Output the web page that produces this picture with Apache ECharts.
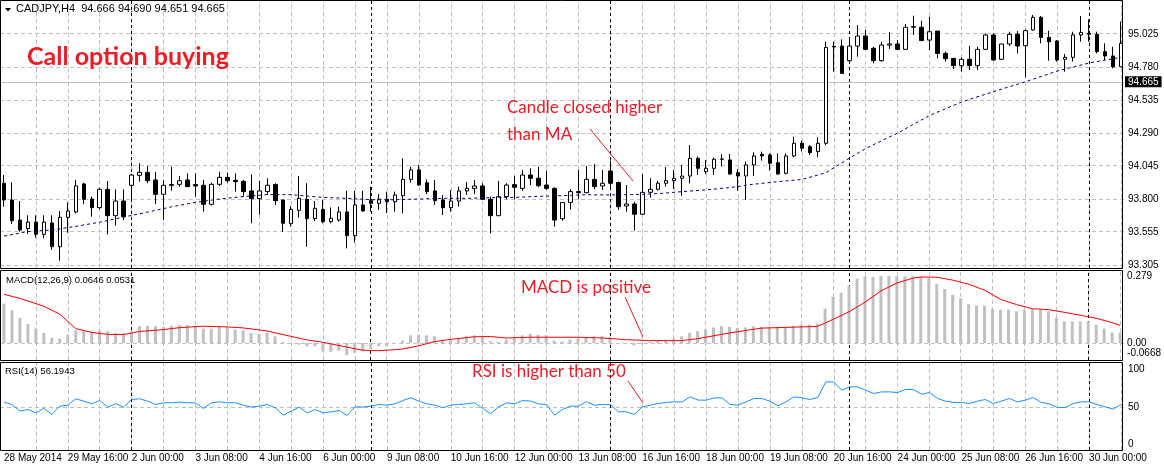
<!DOCTYPE html>
<html><head><meta charset="utf-8">
<script src="https://cdn.jsdelivr.net/npm/echarts@6/dist/echarts.min.js"></script>
<style>html,body{margin:0;padding:0;background:#fff}#c{width:1164px;height:468px}</style>
</head><body><div id="c"></div>
<script>
// ---------- DATA ----------
const dayNames = ['28 May','29 May','30 May','2 Jun','3 Jun','4 Jun','5 Jun','6 Jun','9 Jun','10 Jun','11 Jun','12 Jun','13 Jun','16 Jun','17 Jun','18 Jun','19 Jun','20 Jun','23 Jun','24 Jun','25 Jun','26 Jun','27 Jun','30 Jun'];
const hours = ['00:00','04:00','08:00','12:00','16:00','20:00'];
const timeLabels = ['28 May 2014','29 May 16:00','2 Jun 00:00','3 Jun 08:00','4 Jun 16:00','6 Jun 00:00','9 Jun 08:00','10 Jun 16:00','12 Jun 00:00','13 Jun 08:00','16 Jun 16:00','18 Jun 00:00','19 Jun 08:00','20 Jun 16:00','24 Jun 00:00','25 Jun 08:00','26 Jun 16:00','30 Jun 00:00'];
const opens = [93.917,93.793,93.644,93.580,93.629,93.538,93.622,93.446,93.664,93.704,
93.912,93.800,93.736,93.872,93.676,93.785,93.902,93.976,93.998,93.941,
93.835,93.907,93.909,93.941,93.907,93.902,93.761,93.909,93.961,93.939,
93.931,93.860,93.803,93.855,93.907,93.793,93.617,93.716,93.798,93.654,
93.723,93.632,93.644,93.704,93.528,93.756,93.788,93.768,93.798,93.780,
93.825,93.946,94.016,93.921,93.860,93.793,93.736,93.785,93.860,93.879,
93.897,93.798,93.676,93.818,93.907,93.879,93.978,93.954,93.904,93.879,
93.654,93.775,93.855,93.847,93.946,93.897,94.008,93.922,93.748,93.763,
93.687,93.850,93.872,93.917,93.937,93.954,93.971,94.102,94.003,94.028,
94.095,94.090,93.996,93.971,94.053,94.132,94.127,94.070,93.991,94.120,
94.214,94.189,94.152,94.214,94.934,94.936,94.827,94.936,95.010,94.919,
94.827,94.943,94.951,94.911,95.075,95.075,94.980,95.047,94.881,94.844,
94.790,94.837,94.790,94.911,95.018,94.837,94.951,95.023,94.938,95.055,
95.149,95.000,94.973,94.837,94.852,95.018,95.030,95.023,94.894,94.862,
94.782];
const closes = [93.793,93.639,93.570,93.629,93.538,93.629,93.446,93.664,93.711,93.897,
93.798,93.736,93.872,93.676,93.785,93.669,93.978,93.998,93.936,93.835,
93.902,93.902,93.936,93.892,93.897,93.761,93.909,93.961,93.936,93.929,
93.855,93.803,93.860,93.902,93.788,93.620,93.723,93.805,93.654,93.731,
93.632,93.657,93.704,93.528,93.756,93.711,93.768,93.798,93.780,93.830,
93.946,94.016,93.904,93.855,93.788,93.736,93.785,93.860,93.879,93.897,
93.798,93.676,93.818,93.904,93.887,93.978,93.954,93.899,93.879,93.644,
93.775,93.855,93.847,93.946,93.892,93.917,93.917,93.743,93.763,93.687,
93.850,93.872,93.917,93.937,93.954,93.971,94.102,94.028,94.028,94.095,
94.097,93.986,93.971,94.053,94.120,94.120,94.065,93.986,94.120,94.214,
94.177,94.144,94.214,94.926,94.929,94.733,94.936,95.010,94.911,94.827,
94.943,94.951,94.911,95.075,95.080,94.976,95.042,94.881,94.842,94.790,
94.837,94.790,94.911,95.018,94.832,94.951,95.023,94.936,95.050,95.149,
95.000,94.968,94.832,94.852,95.018,95.037,95.023,94.894,94.862,94.782,
94.956];
const lows = [93.743,93.615,93.558,93.540,93.513,93.508,93.422,93.342,93.550,93.694,
93.761,93.669,93.723,93.538,93.602,93.644,93.800,93.929,93.917,93.763,
93.644,93.862,93.892,93.890,93.818,93.706,93.751,93.897,93.921,93.855,
93.818,93.620,93.684,93.832,93.756,93.555,93.595,93.662,93.446,93.637,
93.620,93.620,93.632,93.434,93.476,93.706,93.706,93.719,93.694,93.706,
93.694,93.921,93.897,93.837,93.756,93.681,93.706,93.743,93.830,93.837,
93.793,93.545,93.676,93.798,93.798,93.862,93.904,93.887,93.867,93.595,
93.639,93.723,93.798,93.842,93.872,93.867,93.880,93.719,93.706,93.565,
93.682,93.810,93.862,93.892,93.875,93.823,93.917,93.979,93.984,93.979,
94.040,93.979,93.862,93.793,93.971,94.085,94.011,93.979,93.984,94.110,
94.152,94.127,94.110,94.200,94.745,94.733,94.807,94.857,94.906,94.807,
94.820,94.914,94.906,94.906,95.018,94.976,94.906,94.844,94.820,94.765,
94.745,94.758,94.758,94.906,94.827,94.832,94.936,94.881,94.703,95.050,
94.956,94.827,94.820,94.745,94.820,94.968,94.968,94.881,94.832,94.770,
94.782];
const highs = [93.978,93.924,93.785,93.679,93.679,93.679,93.679,93.711,93.775,93.941,
93.921,93.818,93.884,93.934,93.872,93.872,93.985,94.065,94.045,94.001,
93.941,94.040,93.971,93.991,93.991,93.941,93.921,94.003,93.996,93.991,
93.941,93.983,93.934,93.954,93.917,93.793,93.748,93.971,93.917,93.785,
93.793,93.738,93.743,93.860,93.860,93.860,93.892,93.837,93.855,93.855,
94.102,94.040,94.053,93.946,93.941,93.830,93.867,93.892,93.926,93.941,
93.917,93.818,93.934,93.917,93.971,94.016,94.028,94.040,94.011,93.887,
93.775,93.872,94.016,94.045,94.060,94.016,94.085,93.929,93.904,93.780,
93.986,93.954,93.934,94.036,94.016,94.053,94.201,94.115,94.090,94.107,
94.134,94.134,94.021,94.078,94.147,94.152,94.139,94.139,94.139,94.263,
94.234,94.201,94.258,94.968,94.968,94.985,94.985,95.092,95.055,94.931,
94.968,95.037,94.980,95.099,95.161,95.124,95.154,95.047,94.894,94.844,
94.852,94.936,94.931,95.030,95.030,94.951,95.042,95.047,95.060,95.166,
95.159,95.050,94.980,94.877,95.042,95.159,95.134,95.042,94.956,94.931,
95.117];
// moving average read at sample bars: [barIndex, value]
const maPoints = [[0,93.525],[3,93.558],[6,93.570],[9,93.597],[12,93.628],[15,93.666],[18,93.703],[21,93.742],[24,93.775],[27,93.800],[30,93.818],[33,93.833],[36,93.832],[40,93.812],[43,93.805],[46,93.795],[49,93.795],[52,93.800],[55,93.805],[58,93.805],[61,93.810],[64,93.812],[67,93.820],[70,93.825],[73,93.832],[76,93.830],[79,93.833],[82,93.840],[85,93.855],[88,93.868],[91,93.885],[94,93.910],[97,93.929],[100,93.945],[103,93.995],[106,94.105],[108,94.175],[112,94.290],[116,94.420],[120,94.520],[124,94.597],[128,94.670],[132,94.750],[136,94.810],[140,94.852]];
const macdHist = [0.164,0.136,0.104,0.080,0.060,0.042,0.021,0.018,0.035,0.053,
0.055,0.049,0.053,0.049,0.042,0.042,0.049,0.070,0.072,0.070,
0.067,0.072,0.074,0.074,0.070,0.060,0.060,0.067,0.065,0.056,
0.053,0.042,0.038,0.042,0.028,0.004,-0.003,-0.007,-0.014,-0.014,
-0.035,-0.037,-0.032,-0.051,-0.042,-0.035,-0.024,-0.014,-0.014,0.000,
0.010,0.032,0.035,0.032,0.028,0.014,0.014,0.021,0.028,0.032,
0.028,0.007,0.004,0.014,0.024,0.032,0.038,0.035,0.032,0.010,
0.007,0.014,0.018,0.024,0.028,0.028,0.024,0.000,-0.004,-0.010,
-0.004,0.004,0.010,0.014,0.018,0.028,0.042,0.049,0.056,0.065,
0.070,0.067,0.063,0.065,0.070,0.068,0.067,0.063,0.063,0.072,
0.076,0.076,0.080,0.143,0.192,0.210,0.239,0.268,0.278,0.275,
0.279,0.279,0.278,0.278,0.278,0.275,0.271,0.246,0.225,0.201,
0.187,0.162,0.156,0.156,0.142,0.139,0.139,0.132,0.136,0.142,
0.139,0.132,0.104,0.090,0.090,0.090,0.090,0.076,0.060,0.044,
0.044];
// MACD signal read at sample bars: [barIndex, value]
const macdSignal = [[0,0.203],[2,0.186],[5,0.153],[7,0.120],[9,0.060],[11,0.044],[13,0.036],[15,0.035],[17,0.048],[20,0.056],[22,0.064],[25,0.070],[28,0.067],[30,0.063],[33,0.050],[35,0.035],[38,0.013],[40,0.003],[43,-0.017],[45,-0.030],[47,-0.032],[49,-0.028],[50,-0.025],[52,-0.012],[54,0.006],[56,0.015],[59,0.026],[61,0.027],[63,0.021],[66,0.024],[72,0.024],[75,0.021],[78,0.014],[81,0.010],[85,0.010],[87,0.018],[90,0.036],[92,0.047],[95,0.062],[98,0.065],[102,0.069],[103,0.083],[106,0.130],[108,0.170],[110,0.217],[112,0.250],[114,0.270],[115,0.275],[117,0.274],[119,0.262],[121,0.245],[123,0.220],[125,0.182],[127,0.160],[129,0.143],[131,0.139],[133,0.128],[135,0.116],[137,0.103],[139,0.085],[140,0.074]];
const rsiVals = [56.2,53.1,44.2,46.4,42.0,47.8,39.8,50.9,52.2,60.7,
57.6,54.0,58.4,49.6,54.0,49.6,59.8,60.7,57.6,53.1,
55.3,55.3,56.2,55.3,55.3,47.8,55.3,56.7,55.3,55.3,
52.2,49.6,50.9,53.1,48.7,38.9,44.2,49.6,42.0,46.4,
42.0,43.3,45.1,38.4,50.0,49.6,50.9,53.1,52.2,54.0,
58.4,62.0,57.6,54.0,52.2,48.7,52.2,53.1,54.0,55.3,
47.8,40.7,50.0,55.3,54.0,58.4,57.6,54.0,53.1,38.9,
46.4,50.9,50.9,56.7,52.2,53.1,53.1,43.4,43.4,39.8,
50.0,52.2,54.4,55.8,56.6,56.6,63.3,58.9,58.9,61.9,
61.9,53.1,52.2,56.6,61.1,61.1,57.5,51.3,56.6,63.3,
61.9,59.7,62.4,83.2,83.2,72.1,76.6,76.6,72.1,67.7,
69.9,69.9,69.0,73.0,73.0,66.8,69.0,61.1,57.5,55.8,
55.8,54.4,57.5,59.7,54.4,57.5,61.1,56.6,58.9,62.4,
55.8,54.0,49.1,49.1,54.4,56.6,56.6,53.1,50.0,46.9,
53.1];
const priceTicks = [93.305,93.555,93.800,94.045,94.290,94.535,94.780,95.025];
const macdTicks = [-0.0668,0,0.279];
const rsiTicks = [0,50,100];
const lastPrice = 94.665;
const headerOHLC = [94.666,94.690,94.651,94.665];
const macdHeader = [0.0646,0.0531];
const rsiHeader = 56.1943;
const gridEvery = 4;
const separators = [16,46,76,106,136];

// ---------- BUILD ----------
const categories = [];
dayNames.forEach((d,k)=>hours.forEach((h,j)=>{
  if(k===0 && j<2) return;
  if(k===dayNames.length-1 && j>4) return;
  categories.push(d+' '+h);
}));
const candles = opens.map((o,i)=>[o,closes[i],lows[i],highs[i]]);
const N = categories.length;
const vGrid = [];
for(let i=gridEvery;i<N;i+=gridEvery) vGrid.push(i);

const RED = '#ED1C24';
const FONT = 'Liberation Sans';
const gridLine = {color:'#c0c0c0',type:[4,3],width:1};
const sepLine = {color:'#000',type:[3,3],width:1};
function vLines(){
  return vGrid.map(i=>({xAxis:i,lineStyle:gridLine})).concat(separators.map(i=>({xAxis:i,lineStyle:sepLine})));
}
function mk(extra){
  return {silent:true,symbol:['none','none'],z:1,animation:false,label:{show:false},emphasis:{disabled:true},
    data: extra.concat(vLines())};
}
const axisLbl = {fontSize:10,fontFamily:FONT,color:'#000'};
function xAx(g,show){
  return {type:'category',gridIndex:g,data:categories,boundaryGap:true,
    axisLine:{show:false},axisTick:{show:false},splitLine:{show:false},
    axisLabel: show ? Object.assign({},axisLbl,{interval:(idx)=>idx%8===0,
      formatter:(v,idx)=>timeLabels[Math.round(idx/8)],align:'left',margin:3}) : {show:false}};
}
function yAx(g,min,max,ticks,fmt,extra){
  return {type:'value',gridIndex:g,position:'right',min:min,max:max,scale:true,
    axisLine:{show:false},axisTick:{show:false,customValues:ticks},splitLine:{show:false},
    axisLabel:Object.assign({},axisLbl,{customValues:ticks,formatter:fmt,margin:3,showMinLabel:true,showMaxLabel:true},extra||{})};
}

const PX_MAIN = 134.7;
const mainMin = 93.305 - 2.3/PX_MAIN, mainMax = mainMin + 268/PX_MAIN;

const option = {
  animation:false,
  backgroundColor:'#fff',
  grid:[
    {left:-3,top:0,width:N*8,height:268},
    {left:-3,top:271,width:N*8,height:89},
    {left:-3,top:363,width:N*8,height:87}
  ],
  xAxis:[xAx(0,false),xAx(1,false),xAx(2,true)],
  yAxis:[
    yAx(0,mainMin,mainMax,priceTicks,v=>v.toFixed(3)),
    yAx(1,-0.0708,0.3,macdTicks,v=>{
      if(Math.abs(v)<1e-9) return '0.00';
      if(v<0) return '{lo|'+v.toFixed(4)+'}';
      return v.toFixed(3);
    },{rich:{lo:{fontSize:10,fontFamily:FONT,color:'#000',padding:[0,0,12,0]}}}),
    yAx(2,-7.6,108.4,rsiTicks,v=>String(v))
  ],
  series:[
    {type:'candlestick',xAxisIndex:0,yAxisIndex:0,data:candles,barWidth:4,z:2,
      itemStyle:{color:'#fff',color0:'#000',borderColor:'#000',borderColor0:'#000',borderWidth:1},
      emphasis:{disabled:true},
      markLine:mk(priceTicks.map(v=>({yAxis:v,lineStyle:gridLine})).concat([
        {yAxis:lastPrice,lineStyle:{color:'#c0c0c0',type:'solid',width:1},
          label:{show:true,position:'end',distance:0,formatter:()=>lastPrice.toFixed(3),
            backgroundColor:'#000',color:'#fff',padding:[1,3,0,3],fontSize:10,fontFamily:FONT}}
      ]))
    },
    {type:'line',xAxisIndex:0,yAxisIndex:0,data:maPoints,showSymbol:false,symbol:'none',z:3,
      lineStyle:{color:'#000080',width:1,type:[3,3]},connectNulls:true},
    {type:'bar',xAxisIndex:1,yAxisIndex:1,data:macdHist,barWidth:3,z:2,
      itemStyle:{color:'#c0c0c0'},emphasis:{disabled:true},
      markLine:mk([{yAxis:0,lineStyle:gridLine}])},
    {type:'line',xAxisIndex:1,yAxisIndex:1,data:macdSignal,symbol:'none',z:3,
      lineStyle:{color:'#ff0000',width:1}},
    {type:'line',xAxisIndex:2,yAxisIndex:2,data:rsiVals,symbol:'none',z:3,
      lineStyle:{color:'#1e90ff',width:1},
      markLine:mk([{yAxis:50,lineStyle:gridLine}])}
  ],
  graphic:[
    {type:'rect',z:100,silent:true,shape:{x:0.5,y:0.5,width:1122,height:268},style:{fill:'none',stroke:'#000',lineWidth:1}},
    {type:'rect',z:100,silent:true,shape:{x:0.5,y:270.5,width:1122,height:90},style:{fill:'none',stroke:'#000',lineWidth:1}},
    {type:'rect',z:100,silent:true,shape:{x:0.5,y:362.5,width:1122,height:88},style:{fill:'none',stroke:'#000',lineWidth:1}},
    {type:'polygon',z:100,silent:true,shape:{points:[[5,8],[11,8],[8,11.5]]},style:{fill:'#000'}},
    {type:'text',z:100,silent:true,x:16,y:9,style:{text:'CADJPY,H4  '+headerOHLC.map(v=>v.toFixed(3)).join(' '),
      fill:'#000',fontSize:11,fontFamily:FONT,verticalAlign:'middle'}},
    {type:'text',z:100,silent:true,x:6,y:280,style:{text:'MACD(12,26,9) '+macdHeader.map(v=>v.toFixed(4)).join(' '),
      fill:'#000',fontSize:9.5,fontFamily:FONT,verticalAlign:'middle'}},
    {type:'text',z:100,silent:true,x:5,y:371,style:{text:'RSI(14) '+rsiHeader.toFixed(4),
      fill:'#000',fontSize:9.5,fontFamily:FONT,verticalAlign:'middle'}},
    {type:'text',z:100,silent:true,x:27,y:57,style:{text:'Call option buying',fill:RED,fontSize:25,fontWeight:'bold',fontFamily:'Lato',verticalAlign:'middle'}},
    {type:'text',z:100,silent:true,x:507,y:108,style:{text:'Candle closed higher',fill:RED,fontSize:17,fontFamily:'Lato',verticalAlign:'middle'}},
    {type:'text',z:100,silent:true,x:507,y:135,style:{text:'than MA',fill:RED,fontSize:17,fontFamily:'Lato',verticalAlign:'middle'}},
    {type:'text',z:100,silent:true,x:521,y:288,style:{text:'MACD is positive',fill:RED,fontSize:17,fontFamily:'Lato',verticalAlign:'middle'}},
    {type:'text',z:100,silent:true,x:472,y:372,style:{text:'RSI is higher than 50',fill:RED,fontSize:17,fontFamily:'Lato',verticalAlign:'middle'}},
    {type:'line',z:100,silent:true,shape:{x1:590,y1:129,x2:633,y2:181},style:{stroke:RED,lineWidth:1}},
    {type:'line',z:100,silent:true,shape:{x1:625,y1:297,x2:643,y2:337},style:{stroke:RED,lineWidth:1}},
    {type:'line',z:100,silent:true,shape:{x1:628,y1:381,x2:643,y2:403},style:{stroke:RED,lineWidth:1}}
  ]
};
const chart = echarts.init(document.getElementById('c'),null,{renderer:'canvas'});
chart.setOption(option);
</script>
</body></html>
